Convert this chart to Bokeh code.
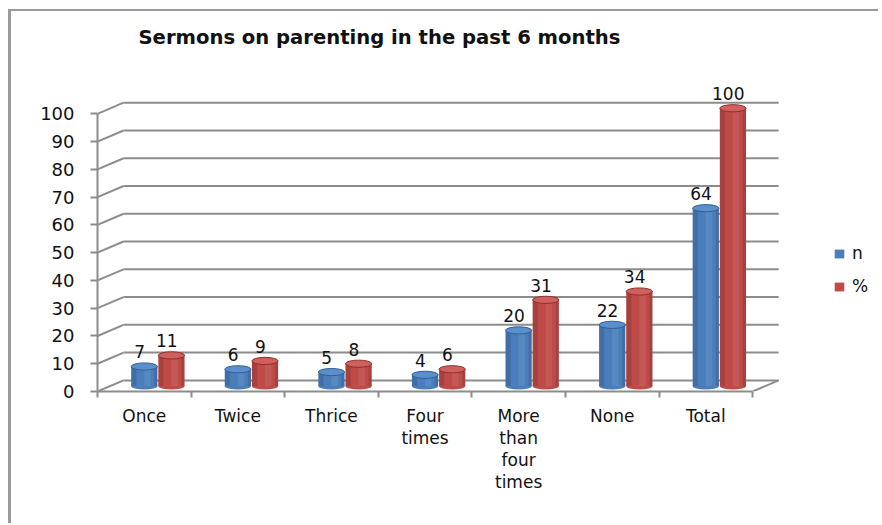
from bokeh.plotting import figure
from bokeh.models import Range1d, FixedTicker, Legend, LegendItem, Label
from bokeh.embed import file_html
from bokeh.resources import INLINE
from bokeh.core.properties import value

# ---------------- data ----------------
title = "Sermons on parenting in the past 6 months"
categories = ["Once", "Twice", "Thrice", "Four times", "More than four times", "None", "Total"]
tick_labels = ["Once", "Twice", "Thrice", "Four\ntimes", "More\nthan\nfour\ntimes", "None", "Total"]
series_names = ["n", "%"]
n_values = [7, 6, 5, 4, 20, 22, 64]
pct_values = [11, 9, 8, 6, 31, 34, 100]
y_ticks = [0, 10, 20, 30, 40, 50, 60, 70, 80, 90, 100]

# ---------------- style / geometry ----------------
FONT = "DejaVu Sans"
GRID = "#8c8c8c"
DX = 0.278      # depth offset (category units)
DY = 4.0        # depth offset (value units)
BASE = 2.0      # bars sit halfway into the depth
W = 0.28        # bar width
EH = 2.6        # ellipse height (value units)
blue = dict(main="#4a7ebb", dark="#2f5f98", top="#5b8fcc")
red = dict(main="#be4b48", dark="#8f2f2c", top="#cf605d")

ncat = len(categories)

p = figure(width=871, height=514,
           x_range=Range1d(0, 8.26), y_range=Range1d(0, 136.84),
           output_backend="svg", toolbar_location=None,
           min_border_left=86, min_border_right=12, min_border_top=0, min_border_bottom=134)
p.styles = {"box-shadow": "-3px -2px 0 0 #9a9a9a",
            "margin-left": "11px", "margin-top": "11px",
            "clip-path": "inset(-3px 4px 0 -3px)"}
p.outline_line_color = None
p.xgrid.visible = False
p.ygrid.visible = False
p.background_fill_color = "white"
p.border_fill_color = "white"

# title drawn inside the (tall) frame
p.add_layout(Label(x=0.438, y=127.5, text=title, text_font=FONT, text_font_size="19.6px",
                   text_font_style="bold", text_color="#111111",
                   text_align="left", text_baseline="middle"))

# y axis (front)
ya = p.yaxis[0]
ya.ticker = FixedTicker(ticks=y_ticks)
ya.bounds = (0, 100)
ya.axis_line_color = GRID
ya.axis_line_width = 2
ya.major_tick_line_color = GRID
ya.major_tick_line_width = 2
ya.major_tick_out = 7
ya.major_tick_in = 0
ya.minor_tick_line_color = None
ya.major_label_standoff = 16
ya.major_label_text_font = FONT
ya.major_label_text_font_size = "18px"
ya.major_label_text_color = "#111111"

# x axis (front floor edge)
xa = p.xaxis[0]
centers = [i + 0.5 for i in range(ncat)]
xa.ticker = FixedTicker(ticks=centers, minor_ticks=list(range(ncat + 1)))
xa.bounds = (0, ncat)
xa.major_label_overrides = {c: lab for c, lab in zip(centers, tick_labels)}
xa.axis_line_color = GRID
xa.axis_line_width = 2
xa.major_tick_line_color = None
xa.major_tick_out = 0
xa.major_tick_in = 0
xa.minor_tick_line_color = GRID
xa.minor_tick_line_width = 2
xa.minor_tick_out = 6
xa.minor_tick_in = 0
xa.major_label_standoff = 8
xa.major_label_text_font = FONT
xa.major_label_text_font_size = "17px"
xa.major_label_text_color = "#111111"
xa.major_label_text_line_height = 1.1

# back wall / side wall grid
p.segment(x0=[0] * len(y_ticks), y0=y_ticks, x1=[DX] * len(y_ticks), y1=[t + DY for t in y_ticks],
          line_color=GRID, line_width=2)
p.segment(x0=[DX] * len(y_ticks), y0=[t + DY for t in y_ticks],
          x1=[ncat + DX] * len(y_ticks), y1=[t + DY for t in y_ticks],
          line_color=GRID, line_width=2)
p.segment(x0=[ncat], y0=[0], x1=[ncat + DX], y1=[DY], line_color=GRID, line_width=2)

legend_items = []
for name, vals, col, shift in [(series_names[0], n_values, blue, 0.0),
                               (series_names[1], pct_values, red, 0.29)]:
    xs = [i + 0.5 + shift for i in range(ncat)]
    tops = [BASE + v for v in vals]
    # bottom ellipse
    p.ellipse(x=xs, y=[BASE] * ncat, width=W, height=EH, fill_color=col["main"], line_color=None)
    # body
    body = p.vbar(x=xs, bottom=BASE, top=tops, width=W, fill_color=col["main"], line_color=None)
    # shading strips
    p.vbar(x=[x - W * 0.4 for x in xs], bottom=BASE, top=tops, width=W * 0.2,
           fill_color="black", fill_alpha=0.12, line_color=None)
    p.vbar(x=[x + W * 0.44 for x in xs], bottom=BASE, top=tops, width=W * 0.12,
           fill_color="black", fill_alpha=0.12, line_color=None)
    p.vbar(x=[x + W * 0.12 for x in xs], bottom=BASE, top=tops, width=W * 0.25,
           fill_color="white", fill_alpha=0.08, line_color=None)
    # top ellipse
    p.ellipse(x=xs, y=tops, width=W, height=EH, fill_color=col["top"],
              line_color=col["dark"], line_width=1)
    # data labels
    p.text(x=[x - 0.05 for x in xs], y=[t + 5.3 for t in tops], text=[str(v) for v in vals],
           text_font=value(FONT), text_font_size="17px", text_color="#111111",
           text_align="center", text_baseline="middle")
    legend_items.append(LegendItem(label=name, renderers=[body]))

legend = Legend(items=legend_items, location=(736, 95), padding=0, margin=0,
                glyph_width=12, glyph_height=11, label_height=20, spacing=13,
                label_standoff=7, label_text_font=FONT, label_text_font_size="17px",
                label_text_color="#111111", border_line_color=None, background_fill_alpha=0)
p.add_layout(legend)

open("out.html", "w").write(file_html(p, INLINE))
